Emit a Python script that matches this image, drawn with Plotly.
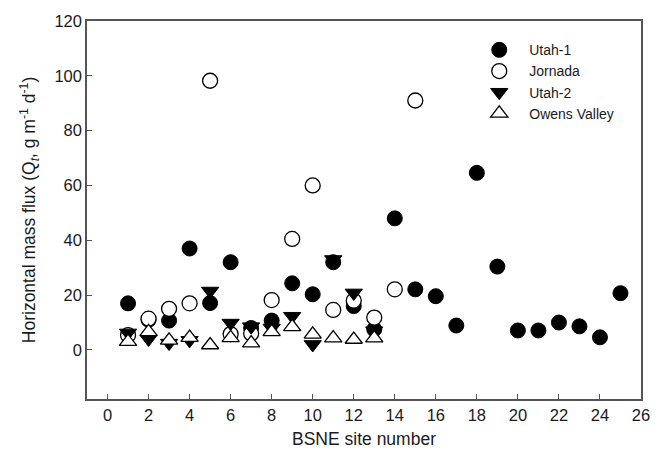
import plotly.graph_objects as go

# BSNE site numbers for each dataset
sites_utah1 = list(range(1, 26))
sites_short = list(range(1, 14))
sites_jornada = list(range(1, 16))

# Horizontal mass flux, g m-1 d-1
utah1 = [17.0, 11.0, 10.7, 37.0, 17.1, 32.0, 8.0, 10.7, 24.3, 20.3, 32.0, 16.0, 7.5,
         48.0, 22.1, 19.6, 8.9, 64.6, 30.4, 7.1, 7.1, 10.0, 8.6, 4.6, 20.7]
jornada = [5.4, 11.4, 15.0, 17.0, 98.2, 5.8, 6.0, 18.2, 40.5, 60.0, 14.6, 18.0, 11.8,
           22.1, 91.0]
utah2 = [6.2, 4.0, 2.5, 3.5, 21.5, 9.8, 8.5, 8.0, 12.3, 2.0, 33.0, 20.8, 7.0]
owens = [3.0, 6.6, 3.5, 4.5, 1.8, 4.4, 2.5, 6.6, 8.4, 5.7, 4.3, 3.8, 4.3]

x_ticks = list(range(0, 27, 2))
y_ticks = list(range(0, 121, 20))

FONT = "Liberation Sans, Arial, sans-serif"
INK = "#1a1a1a"
FRAME = "#555555"

fig = go.Figure()
fig.add_trace(go.Scatter(
    x=sites_utah1, y=utah1, mode="markers", name="Utah-1",
    marker=dict(symbol="circle", size=15, color="black",
                line=dict(color="black", width=1))))
fig.add_trace(go.Scatter(
    x=sites_jornada, y=jornada, mode="markers", name="Jornada",
    marker=dict(symbol="circle", size=15, color="white",
                line=dict(color="black", width=1.3))))
fig.add_trace(go.Scatter(
    x=sites_short, y=utah2, mode="markers", name="Utah-2",
    marker=dict(symbol="triangle-down", size=15, color="black",
                line=dict(color="black", width=1))))
fig.add_trace(go.Scatter(
    x=sites_short, y=owens, mode="markers", name="Owens Valley",
    marker=dict(symbol="triangle-up", size=15, color="white",
                line=dict(color="black", width=1.3))))

fig.update_layout(
    width=669, height=458,
    margin=dict(l=87, r=28, t=14, b=58),
    paper_bgcolor="white", plot_bgcolor="white",
    font=dict(family=FONT, color=INK, size=16),
    showlegend=True,
    legend=dict(x=0.69, y=0.965, xanchor="left", yanchor="top",
                bgcolor="rgba(0,0,0,0)", font=dict(size=14, color=INK),
                itemwidth=50, tracegroupgap=0),
    xaxis=dict(range=[-1, 26], tickvals=x_ticks, ticks="inside", ticklen=5,
               tickcolor=FRAME, showline=True, linecolor=FRAME, linewidth=1.5,
               mirror=True, showgrid=False, zeroline=False,
               title=dict(text="BSNE site number", font=dict(size=17.5), standoff=10),
               tickfont=dict(size=16.5)),
    yaxis=dict(range=[-17.9, 120], tickvals=y_ticks, ticks="inside", ticklen=5,
               tickcolor=FRAME, showline=True, linecolor=FRAME, linewidth=1.5,
               mirror=True, showgrid=False, zeroline=False,
               title=dict(text="Horizontal mass flux (Q<sub><i>t</i></sub>, g m<sup>-1</sup> d<sup>-1</sup>)",
                          font=dict(size=17.5), standoff=14),
               tickfont=dict(size=16.5)),
)

fig.write_html("out.html")
